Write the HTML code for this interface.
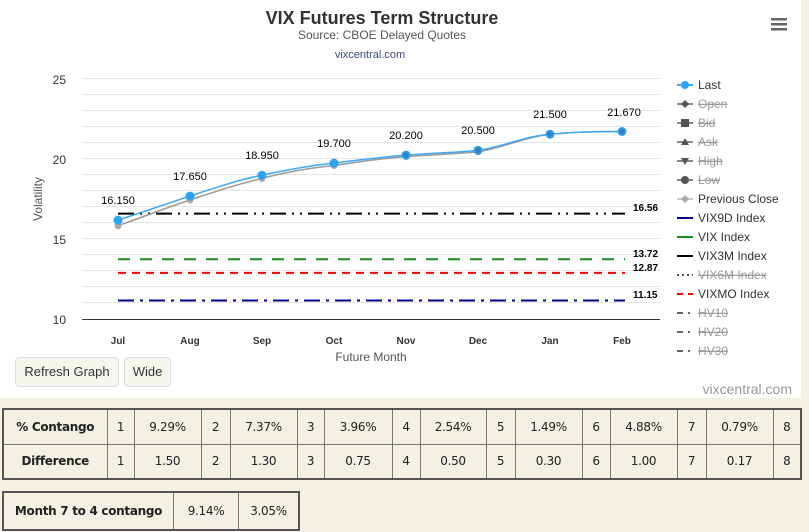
<!DOCTYPE html>
<html><head><style>
body{margin:0;width:809px;height:532px;background:#f3f0e4;font-family:"Liberation Sans Narrow","Liberation Sans",sans-serif;overflow:hidden;position:relative}
#chart{position:absolute;left:0;top:0;width:801px;height:398px;background:#fff}
.btn{position:absolute;top:357px;height:28px;border:1px solid #ddd;border-radius:4px;background:#f7f6ee;font-size:13px;line-height:28px;text-align:center;color:#333}
table{position:absolute;border-collapse:collapse;border:2px solid #555;font-family:"DejaVu Sans",sans-serif;font-size:12px;letter-spacing:-0.3px;color:#222;background:#f3f0e4}
td{border:1px solid #777;text-align:center;padding:0}
</style></head><body>
<div id="chart">
<svg width="801" height="398" xmlns="http://www.w3.org/2000/svg" font-family="Liberation Sans, sans-serif">
<text x="382" y="24" text-anchor="middle" font-size="18" font-weight="bold" fill="#333">VIX Futures Term Structure</text>
<text x="382" y="39" text-anchor="middle" font-size="12" fill="#555">Source: CBOE Delayed Quotes</text>
<text x="370" y="58" text-anchor="middle" font-size="11" fill="#3a4a7a">vixcentral.com</text>
<g fill="#666"><rect x="771" y="18" width="16" height="2.5"/><rect x="771" y="23" width="16" height="2.5"/><rect x="771" y="28" width="16" height="2.5"/></g>
<g stroke="#e6e6e6" stroke-width="1">
<line x1="82" x2="660" y1="78.5" y2="78.5"/><line x1="82" x2="660" y1="94.5" y2="94.5"/><line x1="82" x2="660" y1="110.5" y2="110.5"/><line x1="82" x2="660" y1="126.5" y2="126.5"/><line x1="82" x2="660" y1="142.5" y2="142.5"/><line x1="82" x2="660" y1="158.5" y2="158.5"/><line x1="82" x2="660" y1="174.5" y2="174.5"/><line x1="82" x2="660" y1="190.5" y2="190.5"/><line x1="82" x2="660" y1="206.5" y2="206.5"/><line x1="82" x2="660" y1="222.5" y2="222.5"/><line x1="82" x2="660" y1="238.5" y2="238.5"/><line x1="82" x2="660" y1="254.5" y2="254.5"/><line x1="82" x2="660" y1="270.5" y2="270.5"/><line x1="82" x2="660" y1="286.5" y2="286.5"/><line x1="82" x2="660" y1="302.5" y2="302.5"/>
</g>
<line x1="82" x2="660" y1="319.5" y2="319.5" stroke="#333"/>
<g font-size="12" fill="#333" text-anchor="end"><text x="66" y="84">25</text><text x="66" y="164">20</text><text x="66" y="244">15</text><text x="66" y="324">10</text></g>
<text transform="translate(42,199) rotate(-90)" text-anchor="middle" font-size="12" fill="#555">Volatility</text>
<g font-size="10" font-weight="bold" fill="#333" text-anchor="middle"><text x="118" y="344">Jul</text><text x="190" y="344">Aug</text><text x="262" y="344">Sep</text><text x="334" y="344">Oct</text><text x="406" y="344">Nov</text><text x="478" y="344">Dec</text><text x="550" y="344">Jan</text><text x="622" y="344">Feb</text></g>
<text x="371" y="361" text-anchor="middle" font-size="12" fill="#555">Future Month</text>
<g stroke-width="2" fill="none">
<line x1="118" x2="625" y1="213.6" y2="213.6" stroke="#000" stroke-dasharray="16,6,2,6,2,6"/>
<line x1="118" x2="625" y1="259.2" y2="259.2" stroke="#1a8a1a" stroke-dasharray="12,10"/>
<line x1="118" x2="625" y1="272.9" y2="272.9" stroke="#f00" stroke-dasharray="8,6"/>
<line x1="118" x2="625" y1="300.5" y2="300.5" stroke="#00008b" stroke-dasharray="16,6,3,6"/>
</g>
<g font-size="10" font-weight="bold" fill="#000"><text x="633" y="211">16.56</text><text x="633" y="257">13.72</text><text x="633" y="271">12.87</text><text x="633" y="298">11.15</text></g>
<path d="M118,225.8 C142,217 166,208 190,200 C214,192 238,184 262,178.4 C286,172 310,168 334,165.5 C358,162 382,158 406,156.7 C430,155 454,154 478,151.9 C502,148 526,137 550,134.2 C574,132 598,131.5 622,131.5" fill="none" stroke="#999" stroke-width="1.5"/>
<g fill="#aaa"><circle cx="118" cy="225.8" r="3.5"/><circle cx="190" cy="200" r="3.5"/><circle cx="262" cy="178.4" r="3.5"/><circle cx="334" cy="165.5" r="3.5"/><circle cx="406" cy="156.7" r="3.5"/><circle cx="478" cy="151.9" r="3.5"/></g>
<path d="M118,220.2 C142,212 166,204 190,196.1 C214,188 238,180 262,175.2 C286,170 310,165.5 334,163.1 C358,160 382,157 406,155.1 C430,153 454,153 478,150.3 C502,147 526,136 550,134.2 C574,132 598,131.5 622,131.5" fill="none" stroke="#3fa9f5" stroke-width="1.5"/>
<g fill="#2ea3f2"><circle cx="118" cy="220.2" r="4.5"/><circle cx="190" cy="196.1" r="4.5"/><circle cx="262" cy="175.2" r="4.5"/><circle cx="334" cy="163.1" r="4.5"/><circle cx="406" cy="155.1" r="4.5"/><circle cx="478" cy="150.3" r="4.5"/><circle cx="550" cy="134.2" r="4.5"/><circle cx="622" cy="131.5" r="4.5"/></g>
<g fill="#36669b" opacity="0.5"><circle cx="550" cy="134.2" r="3"/><circle cx="622" cy="131.5" r="3"/><circle cx="478" cy="150.3" r="3"/><circle cx="406" cy="155.1" r="3"/></g>
<g font-size="11" fill="#000" text-anchor="middle"><text x="118" y="204">16.150</text><text x="190" y="180">17.650</text><text x="262" y="159">18.950</text><text x="334" y="147">19.700</text><text x="406" y="139">20.200</text><text x="478" y="134">20.500</text><text x="550" y="118">21.500</text><text x="624" y="116">21.670</text></g>
<g font-size="12" fill="#333">
<line x1="677" x2="693" y1="85" y2="85" stroke="#3fa9f5" stroke-width="2"/><circle cx="685" cy="85" r="4" fill="#2ea3f2"/><text x="698" y="89">Last</text>
<g fill="#888" stroke="#888" stroke-width="2"><line x1="677" x2="693" y1="104" y2="104"/><line x1="677" x2="693" y1="123" y2="123"/><line x1="677" x2="693" y1="142" y2="142"/><line x1="677" x2="693" y1="161" y2="161"/><line x1="677" x2="693" y1="180" y2="180"/><line x1="677" x2="693" y1="199" y2="199" stroke="#ccc"/></g>
<path d="M685,100 l4,4 -4,4 -4,-4z" fill="#555"/><rect x="681" y="119" width="8" height="8" fill="#555"/><path d="M685,138 l4,7 h-8z" fill="#555"/><path d="M681,158 h8 l-4,7z" fill="#555"/><circle cx="685" cy="180" r="4" fill="#555"/><path d="M685,195 l4,4 -4,4 -4,-4z" fill="#aaa"/>
<g fill="#999" text-decoration="line-through"><text x="698" y="108">Open</text><text x="698" y="127">Bid</text><text x="698" y="146">Ask</text><text x="698" y="165">High</text><text x="698" y="184">Low</text></g>
<text x="698" y="203">Previous Close</text>
<line x1="677" x2="693" y1="218" y2="218" stroke="#00008b" stroke-width="2"/><text x="698" y="222">VIX9D Index</text>
<line x1="677" x2="693" y1="237" y2="237" stroke="#1a8a1a" stroke-width="2"/><text x="698" y="241">VIX Index</text>
<line x1="677" x2="693" y1="256" y2="256" stroke="#000" stroke-width="2"/><text x="698" y="260">VIX3M Index</text>
<line x1="677" x2="693" y1="275" y2="275" stroke="#555" stroke-width="2" stroke-dasharray="2,3"/><text x="698" y="279" fill="#999" text-decoration="line-through">VIX6M Index</text>
<line x1="677" x2="693" y1="294" y2="294" stroke="#f00" stroke-width="2" stroke-dasharray="6,5"/><text x="698" y="298">VIXMO Index</text>
<g stroke="#666" stroke-width="2" stroke-dasharray="6,5,2,10"><line x1="677" x2="693" y1="313" y2="313"/><line x1="677" x2="693" y1="332" y2="332"/><line x1="677" x2="693" y1="351" y2="351"/></g>
<g fill="#999" text-decoration="line-through"><text x="698" y="317">HV10</text><text x="698" y="336">HV20</text><text x="698" y="355">HV30</text></g>
</g>
<text x="792" y="394" text-anchor="end" font-size="14" fill="#999">vixcentral.com</text>
</svg>
<div class="btn" style="left:15px;width:102px">Refresh Graph</div>
<div class="btn" style="left:124px;width:45px">Wide</div>
</div>
<table style="left:2px;top:408px;width:800px;height:72px">
<colgroup><col style="width:104px"><col style="width:27px"><col style="width:67px"><col style="width:29px"><col style="width:67px"><col style="width:27px"><col style="width:68px"><col style="width:28px"><col style="width:66px"><col style="width:29px"><col style="width:67px"><col style="width:28px"><col style="width:67px"><col style="width:29px"><col style="width:67px"><col></colgroup>
<tr><td><b>% Contango</b></td><td>1</td><td>9.29%</td><td>2</td><td>7.37%</td><td>3</td><td>3.96%</td><td>4</td><td>2.54%</td><td>5</td><td>1.49%</td><td>6</td><td>4.88%</td><td>7</td><td>0.79%</td><td>8</td></tr>
<tr><td><b>Difference</b></td><td>1</td><td>1.50</td><td>2</td><td>1.30</td><td>3</td><td>0.75</td><td>4</td><td>0.50</td><td>5</td><td>0.30</td><td>6</td><td>1.00</td><td>7</td><td>0.17</td><td>8</td></tr>
</table>
<table style="left:2px;top:491px;width:298px;height:40px">
<tr><td style="width:169px"><b>Month 7 to 4 contango</b></td><td style="width:64px">9.14%</td><td>3.05%</td></tr>
</table>
</body></html>
